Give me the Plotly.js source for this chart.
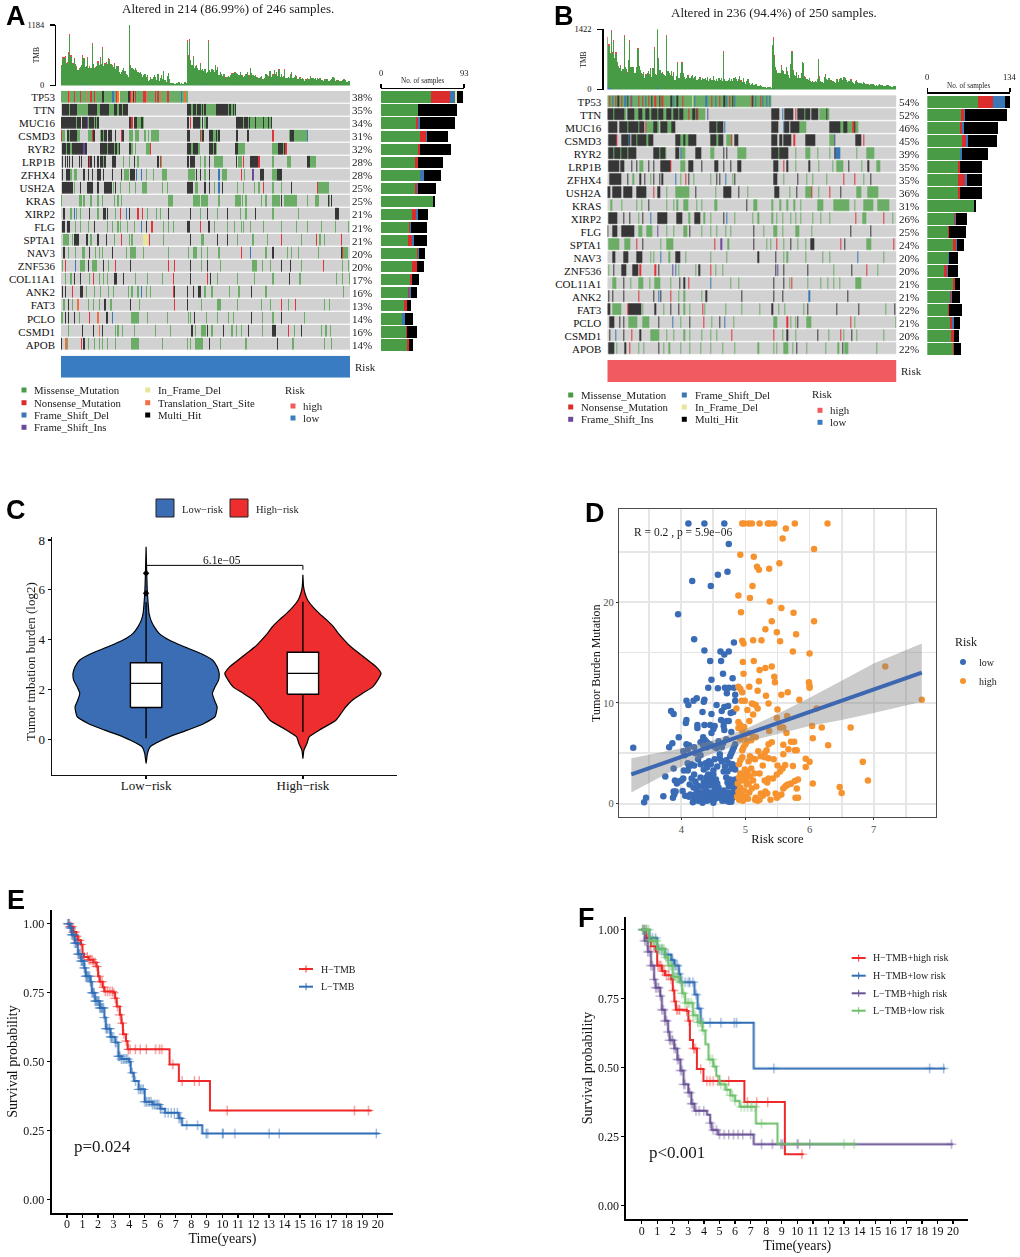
<!DOCTYPE html>
<html><head><meta charset="utf-8">
<script src="https://cdn.plot.ly/plotly-3.0.1.min.js"></script>
<style>html,body{margin:0;padding:0;background:#fff}#chart{width:1020px;height:1257px;filter:blur(.35px)}</style>
</head><body><div id="chart"></div>
<script>
const genes=["TP53","TTN","MUC16","CSMD3","RYR2","LRP1B","ZFHX4","USH2A","KRAS","XIRP2","FLG","SPTA1","NAV3","ZNF536","COL11A1","ANK2","FAT3","PCLO","CSMD1","APOB"];
const pctA=[38,35,34,31,32,28,28,25,25,21,21,21,20,20,17,16,13,14,16,14];
const pctB=[54,52,46,45,39,35,35,36,31,26,25,24,20,20,21,21,22,21,20,22];
const tmbA=[380,520,530,540,420,440,620,970,560,430,450,520,430,360,300,330,360,400,560,520,340,380,530,340,360,340,790,430,340,340,380,450,410,540,420,710,380,420,460,400,540,480,420,380,360,420,320,370,390,260,220,260,300,350,290,220,210,170,
1184,380,340,320,310,350,280,260,250,270,220,170,190,220,150,200,90,110,170,130,170,200,160,110,220,90,140,180,120,290,110,70,170,250,130,50,40,40,30,30,40,50,70,30,40,30,30,70,40,
860,560,870,470,400,560,340,380,390,340,300,420,310,300,290,320,240,260,850,300,260,330,300,260,400,310,350,210,260,220,190,220,230,150,170,190,160,210,220,250,270,240,240,210,210,270,200,190,170,180,220,260,200,170,350,240,200,180,210,170,150,140,170,190,130,110,150,220,200,160,290,280,160,190,300,220,270,180,310,170,220,170,180,300,150,140,170,150,200,270,150,160,210,170,130,120,150,130,140,120,90,100,150,120,130,160,150,140,130,140,110,130,120,150,110,100,90,110,120,130,90,80,100,120,170,140,90,110,80,110,90,90,100,110,120,100,70,80,90,110,90];
const tmbB=[1050,990,800,1340,860,1130,740,840,660,520,480,560,430,480,1230,540,480,400,700,1130,520,540,510,380,400,500,950,560,450,380,340,420,280,340,400,440,360,480,300,500,950,360,340,1406,720,460,400,380,360,340,300,1234,430,380,320,440,320,380,220,320,620,280,260,400,620,380,300,240,280,340,300,280,310,340,260,290,310,220,240,300,280,220,270,250,280,220,290,210,250,280,220,310,230,200,240,200,260,230,270,210,880,240,200,190,230,260,210,240,190,270,300,240,200,250,310,200,180,260,170,130,210,250,150,110,130,150,110,110,120,90,90,80,100,90,70,50,50,40,60,70,50,40,
1050,1156,760,520,440,400,380,400,520,470,430,360,540,420,340,260,600,880,430,340,320,420,280,320,270,380,650,620,300,280,250,230,260,190,170,180,170,190,170,240,715,280,200,170,160,300,350,240,210,280,230,190,190,210,170,150,240,180,230,260,280,220,290,270,220,170,190,200,230,180,150,140,190,200,180,150,160,150,120,170,150,130,140,100,110,120,130,120,110,90,100,90,110,120,100,100,80,80,90,100,110,90,80,70,70,90,80];
const capSampleA=[0,1,2,3,4,5,6,7,8,9,11,13,15,18,19,22,24,26,29,31,33,35,37,39,41,43,45,47,58,59,64,72,85,107,108,109,110,112,115,118,125,133,140,145,148,154,160,167,172,176,180,185,190,195,200,203,208,212,218,224,230,235,240];
const capValueA=[20,30,25,40,20,20,30,45,35,20,25,20,20,30,25,30,20,40,20,20,25,45,20,20,30,20,20,20,20,25,20,20,30,40,35,45,20,25,20,20,35,20,20,25,20,20,30,15,20,20,25,20,20,30,20,25,20,30,25,20,15,20,15];
const capSampleB=[0,1,2,3,4,5,7,9,11,14,17,19,22,26,30,33,37,40,43,44,47,51,54,57,60,64,70,80,100,115,143,144,146,150,155,159,160,165,170,171,177,183,188,193,200,210,215,225,235];
const capValueB=[60,40,30,50,30,40,35,25,25,55,25,45,25,35,25,25,25,45,50,30,25,45,25,25,30,30,25,20,30,20,60,50,30,30,25,30,40,25,30,25,25,40,25,25,25,20,30,20,15];
const baseSampleA=[20,70,90,120,150,180];
const baseValueA=[20,15,15,20,15,15];
const baseSampleB=[0,1,2,3,10,25,43,50,70,143,150,190];
const baseValueB=[120,40,30,20,25,20,60,20,20,25,20,15];
const oncoA=[
"m0-107 n6 t7 n11 n16 t21 n25 n28 h35 h36 d43 d44 n47 t48 f49 h57 h58 n59 t60 h61 n63 n70 n71 t72 n80 n82 t84 n90 n91 d102 t105",
"h1-6 m7 h8-13 m14-22 h23-30 m31-32 h33-40 m41-44 h45-47 m48 h49-51 m52 h53-56 h107-110 m111 h112-114 m115 h116-118 m119 h120 m121 h122 m123-131 h132-141 m142 h143-144 m145 h146 m147 h148",
"h0-9 h10-12 m13 h14-16 h18-21 i22 m23 h24-27 m28 h29 m30 h31 h58-59 n60 h62-64 m65-67 h68-69 m70 h107-108 n110 h112-117 m118 h120 m122 h123-124 h149-154 m155 h156-158 m159 h160 m161-164 h165 m166-171 h172 m173-175 h176 m177-178 h179",
"n0 m1-2 h5-6 m7 h8-13 m14-15 m23-25 n26 h27-28 m33 h34-35 m36 h37-38 h40-42 h46 n51 h52-53 m58-60 m63-65 m71 m74 m77-82 h107-109 n118 m119 h120-121 h126-128 m129-131 h132 m133 h134 h149-150 h158-159 n180 m194 h195-197 m198-208 d209",
"h1-3 m4 h5-7 m8 h9-12 h13-15 h16-18 i19 h20-21 h33-38 m39 h40-44 m45 h46-47 m48 h49 h58-59 m60 m63 m72-75 n76 h107-110 m111 h112-116 m117 h126-128 m129 h130-131 m132 h148-150 m151-156 m180-184 h185-188 m189 h190 n191",
"h1 h3 h5 h7 h9 h15 h17 h23 n24 h25 h28 h31 h33-35 m36 h37 h43-46 m53 m58 h62 m65 h82 n84 m85 h107-108 h110-113 m118 m122 h126 m130-137 h149 m151-153 n155 h161-163 h164-166 h167 n168 m180 m192-195 h209-211 m212-216",
"h1 h4-7 m8 m11-13 h19 h23 h26 h31-33 h36 h43 h51 m54-57 h59-62 d64 d68 m72 m78 m86-89 m108-112 m113 h115 h118 m122 h126 d134 m137-140 n153 m156 i163 h169-172 m180-183 h184-187",
"h1-9 m11 h16 h22-25 h26 h31 h37-39 h40-42 m44 h46 m50 m58 m63 m69-72 m86 m90 h107-111 m114-116 h122 h126 m130 d134 h137 m150 m155 m164 m168 n172 m180 m187 h196 n218 m219-227",
"m0 m15-17 m19 m25 m31 m35 m45 m48 m51 m91-94 m112-117 m119-124 m134 m148-152 m154 m157 m170 m174 m180-185 h187 m190-200 m209 m216-219 h227 m228 h230",
"h2 m8 d11 m13 m16 h24 m31 h36-37 h39 m46 n50 d55 h58 n65 n69 m73 m81 m84 h91 h110 m118 h124 m133 h141 m152 m157 h165 m180 m202 h233-236",
"h1-2 h5-7 m12 m16 m23 h28 m39 m43 m48 m50 m56 m62 d68 h72 n77 m87 m91 m95 h107-109 n118 h125-126 m130 m141 m147 m153 m155 m161 m172 m187 m200 m209 m221 m233 m244",
"m2-6 m9 h11-14 h21-22 m25 h31 h38 m45 n51 m58 m60 f70-73 n75 m87 h110 m119-121 h133 h141 m150 m163 m175 n187 m204 n217 m220 m224 n238",
"h2 m6 m12 m18-19 h24 m29 m32 m35 h43 m55 m59-63 m70 m91 m108 m112-115 m119 m124 m134 n153 d161 m174 h180 m192 m196 m202 m219 h238 n239 m240-243",
"m1 n3 d12 m16-19 h23 m26-30 h36 m40 n46 h59 n91 n96 h110 m119 h124 m135 m163-166 m171 m178 h187 h195 m204 n223 m239 m244",
"m3 m8 h11 h16 m24 n27 m32 m36 m39 h45-47 h53 m63 m73 m86 n95 h110 n124 h127 m133 m150 m164 m180 h194 m203 m234 m239 m245",
"h1 h3 n9 h16-18 m21 m28 m33 m40 m44 m57 m60 m65 d68 m72 m76 n95 h96 h107 h112 h117-118 m122 m128 m143 m151 h162 m174 m240",
"m2 h6 m9 t14 m23 m27 m32 h37 m42 h59 m66 n96 h107 m119 m133-135 m150 m170 m178 n187 m193 n199 m224 m228",
"m0-1 h3 h6 h11 m15 n24 t31 h38 h39 d43 m60-65 m73 m90 m108 m110 h113 m123 m133 m142 m146 h162 m171 m180 h187 m207",
"m6 h18 h27 t32 h35 m46 m48 m52 m62 m80 m93 h111 m114 m119-122 h124 m128 h138 m145 m149 m153 h159 m171 h180-182 n193 m198 h204 m221 m225 m229",
"h0 t3-4 m5 n17 h19 m23 m28 m32 m35 m39 m46 m60-65 m86 m107 m110 m114-120 h126 m135 m157 h184 m197 m224 m230"];
const oncoB=[
"m0-141 n2 d4 n7 h9 n12 d15 h17 n20 d21 n27 n30 d33 n35 h38 n41 h45 n47 h54 h55 d57 h60 n65 f73 d75 d85 n90 d93 n97 h100 h101 d103 n105 h108 d110 n124 h125 d128 n132 d134 d137 d140",
"h0-4 m5 h6-14 m15 h17-22 m23-26 h27-29 m30-32 h33-35 m36-37 h38-42 m43 h44-47 m48-50 h51-54 m55-56 h57-60 m61 h62-65 m66-69 n70 m71-72 h73-75 m76 h77 n78 m79-84 i86 h142-148 d151 h153-160 n162 h164-169 m170 h171-174 h176-181 m183-191 h189",
"h1-8 h10-16 m17 h18-26 m27 h28-31 n33 m34-39 h40-42 m43-44 h46-51 m52-54 h55-58 h88-93 m94 h95-99 d101 h142-147 d152 h153-156 h158-165 m166-171 h192-200 m201-203 h204-206 m207-211 n212 h213 m214-216",
"h1-7 n8 h12-19 d18 h21-24 m25 h26-33 m34 h35-39 h59-62 m63-65 h66 m67-69 h70-76 h89-93 m94-95 h96-99 m103-106 n107 h110-112 h142-146 h149-150 h152-158 n161 h171-179 m192-195 i196 h214-218 n221",
"h1-4 m5 h6-10 m11 h12-16 m17 h18-24 h40-44 m45 h46-49 m50 h59-61 d63 m64-66 h76-80 m89-91 h100 h103 m112-119 h142-147 m148 h149-155 m162 m171-174 m181 m192 h196 d197-200 m215 m224-230",
"h1-9 h11-14 h21 h25 m28-30 h35 h40 h46-53 n54 m63-66 h70-73 h81 h92-95 h100 h106 h112-115 h143-147 n152 h155 m162 h174 m182 m194 m198-203 h208 m219 h225 m232-235",
"h2-11 h17 m22 h28 h32 m37 h40 h45 h47 d59 m63 n67 h70 m74 m89 h94 h97 d102 m108 h110 h143-146 m152 h164 m172 m177 m189 n204 n213 m221 h227",
"h0-2 h4-11 h14-21 h25-33 n40 h43-45 m51 m59-63 m64-70 h76 m93 h100-106 h113 m121 h144-148 m157 h163 m171-175 n176 m182 n192 h201 m215-218 m225-233",
"m3 m12 m25 m29 h35 m51 m57 m60 m66-69 m77 m81 m92-94 h120 m126-129 m142 m149 m155 m161 m167 m181-186 m195-208 m213 m221-229 m233-243",
"h1-8 h14 h19 m27 h30 d37 h43-51 h60-64 m70-71 h75-79 m83-84 m89 h100 d103 m110 m125 m130 m142 m146 m151 m158 m162 m167 m177 m184 m192 n214 m220-223 n238 m246",
"h0 h4-8 h12-22 m27-29 m34-38 i43 m51 m57 m66-68 h71 m81 m89 m94 m102 m106 h126 m135 m143-146 m151 m162-165 m176 h210 h227",
"m1-9 m15-19 n25 h30 m46 m51-56 n92 i98 m104 h126 m137 m141 n146 m152 h158 m164 m171 h175-178 n201 h205 m224-227 n247",
"h4-6 h14-17 h25-29 m37 m40 d46 m53 h59-62 m67 m89 m103 h130 h145 m152 m155 m171 m186 m192 d216 m238",
"m1 h5 h12-15 h22-26 n28 n41 h44 i56 d59 m61 m76 h79 n89 m93 m99 h145 i147 h152 h173 m195 h211 n224 m233",
"m4-7 h14 m20 m27-30 m36 m41-45 m54 h62 h66 n70 d89 m106 m113 h143 h152 m157 n159 m173 m184 m190 m195 m200 m214-218",
"h1 h4 h14 n27 h40 d44 h46 n54 m61 m66 m81 h85 h116 h143 h151 d174 h207",
"h0-2 m4-11 n17 h18-28 m30 h41 m48 h54 h61 m66 m71 n82 m84 m102 m116 m131 h142 m148 m153 m169 h173 h198 h217 m240 h248",
"h2-5 h10 h14 m18-25 m30-35 h44 d56 m63 h71 n83 m90 h97 d101 m109 m143-146 n155 m158 m162 h164 m172-175 n210 m213 m249",
"h2 d7 h14 n21 h28 m37-44 m51 m57 m66 m71 m81 m89 m94 n107 n143 m151 h155 m162 h181 m191 n201 m204 h211 m215 m238",
"h1-5 m8 h15 n19 m27 m31 h44 m48 m53 m63 m71 m80 m89 m99 m110 m130 m143 m146 m152-155 m160 h163 m172 m188 m199 h203 m205-207 m232"];
const barMissA=[55.8,42,39.4,43.9,40.9,38.3,43.2,38.3,58.8,35,30.9,29.8,39.8,34.6,32,29.8,25.3,23.8,27.5,29];
const barNonsA=[21.6,0,2.2,6.7,2.6,3.7,.7,1.9,0,4,1.9,5.2,1.9,5.2,3,1.9,3.7,0,1.9,1.9];
const barDelA=[6,0,2.2,1,0,0,4,.7,0,1.9,1,1.9,1,1,0,1.5,0,3,0,0];
const barInFrameA=[2,0,0,0,0,0,0,0,0,0,0,0,0,0,0,0,0,0,0,0];
const barMultiA=[6,43.5,38.7,23.8,35.3,27.9,19.7,20.8,2.2,11.2,18.2,14.5,6.3,7.1,7.1,7,4.5,8.5,10.8,4.5];
const barMissB=[82,54.6,53,55.7,53,49.7,50.3,49.7,75.7,43.2,33,41,33,27,42,36.8,33.5,36.2,38.4,41];
const barNonsB=[24.9,4.9,3.2,7,0,3.2,11.4,3.2,0,1.6,1.6,5.4,0,4.3,2.2,2.2,1.6,3.2,4.3,1.6];
const barDelB=[18.9,1.6,3.8,3.2,3.2,0,2.7,0,0,1.6,0,1.6,2.2,2.2,0,1.6,0,3.2,0,0];
const barMultiB=[8.1,68.6,55,47,41.6,35,23.8,36.2,2.7,17.8,27.6,11.9,14,16.8,9.2,13,21.6,10.8,8.6,11.9];
const violinLowY=[-.98,-.58,-.31,.09,.36,.63,.9,1.1,1.3,1.5,1.84,2.1,2.37,2.64,2.91,3.18,3.44,3.71,3.98,4.25,4.52,4.79,5.05,5.46,5.86,6.66,7.73];
const violinLowW=[0,.0085,.026,.147,.264,.37,.44,.449,.453,.44,.423,.44,.462,.466,.453,.423,.349,.243,.147,.083,.051,.03,.019,.013,.0085,.004,0];
const violinHighY=[-.78,-.44,-.17,.09,.36,.76,1.03,1.3,1.57,1.84,2.1,2.37,2.64,2.91,3.18,3.44,3.71,3.98,4.25,4.52,4.79,5.05,5.32,5.59,5.86,6.13,6.6];
const violinHighW=[0,.0064,.026,.04,.104,.21,.243,.274,.317,.381,.445,.477,.498,.466,.413,.36,.306,.264,.226,.194,.151,.104,.062,.03,.013,.004,0];
const boxLow={q1:1.27,med:2.24,q3:3.07,lo:.03,hi:5.5};
const boxHigh={q1:1.8,med:2.64,q3:3.49,lo:.29,hi:5.52};
const outliersLow=[5.86,6.66];
const scatterLow=[[4.11,27.8],[4.36,27.8],[4.67,27.8],[4.74,25.75],[4.72,23],[4.57,22.7],[4.17,22.1],[4.46,21.6],[3.95,18.8],[4.2,16.3],[4.36,15.2],[4.61,15.1],[4.67,14.8],[4.74,15.1],[4.82,16],[4.45,14.15],[4.62,14.15],[4.65,12.9],[4.8,12.45],[4.47,12.3],[4.42,11.5],[4.57,11.45],[4.68,11.5],[4.74,11.5],[4.82,11.5],[4.71,10.95],[4.84,10.8],[4.84,10.2],[4.08,10.2],[4.24,10.45],[4.19,10.2],[4.36,10.3],[4.35,10.1],[4.11,9.8],[4.55,9.8],[4.67,9.6],[4.73,9.7],[3.84,9.2],[3.88,8.9],[4.33,9.1],[4.47,8.9],[4.63,9.2],[4.77,9],[4.81,9.1],[4.08,8.3],[4.07,8],[4.62,8.3],[4.71,8.2],[4.66,8.1],[4.74,8.2],[4.25,7.8],[4.25,7.5],[4.36,7.8],[4.45,7.8],[4.52,7.7],[4.5,7.4],[4.66,7.7],[4.67,7.3],[4.47,7],[4.78,7.1],[3.96,6.6],[4.34,6.6],[4.37,6.3],[4.33,6.2],[4.4,6.1],[4.58,6.2],[4.45,5.9],[4.08,5.9],[3.86,6],[3.81,5.6],[3.25,5.55],
[3.42,.15],[3.45,.6],[3.72,.75],[3.88,1.2],[3.89,.9],[3.87,.6],[3.91,1.2],[4.02,1.25],[3.75,2.7],[3.88,3.5],[3.9,2.3],[3.93,2],[4,2.3],[3.96,2.2],[4.03,2.5],[4.04,3.3],[4.1,3.3],[4.06,.8],[4.12,.7],[4.14,.9],[4.18,.15],[4.2,.5],[4.22,.9],[4.24,1.3],[4.26,.3],[4.28,.7],[4.3,1.1],[4.33,.1],[4.34,.5],[4.36,.9],[4.38,1.4],[4.4,.3],[4.42,.7],[4.44,1.1],[4.46,.4],[4.48,.8],[4.5,.1],[4.51,1.2],[4.53,.5],[4.55,.9],[4.57,1.4],[4.6,.6],[4.62,1],[4.64,.3],[4.66,1.3],[4.68,.7],[4.7,.3],[4.72,1.1],[4.74,.2],[4.75,.6],[4.77,1],[4.78,.2],[4.8,.6],[4.81,1.2],[4.83,.9],[4.84,1.5],
[4.13,1.9],[4.16,2.5],[4.19,1.6],[4.2,2.9],[4.22,2.2],[4.25,1.8],[4.3,2.6],[4.32,1.7],[4.35,2.1],[4.37,1.7],[4.39,2.6],[4.4,1.9],[4.42,2.9],[4.43,2.3],[4.45,1.8],[4.47,2.6],[4.49,2.2],[4.5,2.9],[4.52,1.7],[4.54,2.4],[4.56,2],[4.58,1.6],[4.7,2.6],[4.72,2.1],[4.74,1.7],[4.76,2.4],[4.78,1.8],[4.8,2.1],[4.82,1.7],[4.84,2.4],[4.85,1.9],
[4.1,4],[4.12,3.7],[4.16,3.9],[4.2,3.8],[4.26,4.4],[4.3,3.9],[4.35,3.4],[4.38,4],[4.4,3.6],[4.43,4.2],[4.46,3.9],[4.5,3.3],[4.52,4.4],[4.56,3.7],[4.6,4.5],[4.63,4.2],[4.66,3.2],[4.68,3.7],[4.7,4.3],[4.72,3.2],[4.74,4],[4.78,3.5],[4.8,3.9],[4.82,3.5],[4.84,3.4],[4.76,4.7],[4.78,5],[4.8,5.3],[4.82,5.6],[4.84,5.9],[4.6,4.9],[4.63,5.6],[4.65,6],[4.55,5.5],[4.5,5.7],[4.4,5.6],[4.34,5.8],[4.3,6.1],[4.2,5.6],[4.12,5.8],[4.1,5.4],[4.03,5.2],[4.05,4.8],[4.22,5],[4.3,4.8],[4.7,6.4]];
const scatterHigh=[[4.95,27.8],[4.98,27.8],[5.05,27.8],[5.1,27.8],[5.22,27.8],[5.35,27.8],[5.38,27.8],[5.45,27.8],[5.77,27.8],[6.28,27.8],[5.63,27.3],[5.58,26.3],[6.07,25.25],[4.92,24.7],[5.13,24.5],[5.53,23.85],[5.18,23.5],[5.21,23.2],[5.37,23.3],[5.11,21.6],[4.89,20.65],[5.07,20.4],[5.38,20.05],[5.56,19.4],[4.93,19],[5.75,18.95],[5.41,18.1],[6.07,18.1],[5.31,17.3],[5.49,17],[5.79,16.8],[4.95,16.15],[4.97,15.9],[5.12,16.2],[5.25,16.2],[5.54,16.1],[5.74,15.1],[6,14.9],[4.96,14.05],[5.13,14.15],[5.41,13.6],[5.31,13.45],[5.22,13.25],[7.18,13.6],[4.97,12.9],[5.45,12.6],[5.21,12.15],[5.46,12.05],[5.99,12.05],[4.89,11.6],[4.92,11.4],[5.06,11.6],[6,11.7],[6,11.5],[4.95,11.05],[5.19,11.2],[5.66,11.05],[5.56,10.8],[5.32,10.7],[7.75,10.3],[5.84,10.3],[4.94,10.2],[4.99,10.2],[5.1,9.95],[5.12,9.9],[5.36,9.95],[5.16,9.8],[5.19,9.45],[4.86,9.45],[5.03,9.3],[5.5,9.35],[6.11,9.45],[5.12,8.85],[5.65,8.7],[5.49,8.5],[5.06,8.2],[4.89,8.1],[6.04,7.7],[6.19,7.55],[6.64,7.55],[5.54,7.55],[5.59,7.55],[5.37,7.2],[5.64,7],[6.05,6.5],[6.29,5.8],[5.71,6.15],[5.76,6.15],[5.41,6.1],[5.36,5.9],[5.59,5.85],[5.67,5.4],[5.77,5.3],[5.8,5.3],[5.59,4.9],[5.94,4.45],[6,4.15],[6.83,4.15],[5.94,3.65],[5.74,3.75],[5.62,3.85],[6.91,2.3],[6.05,2],[5.82,2.4],[5.77,2.25],[5.71,2],[5.64,1.8],[6.47,1.65],[6.5,1.05],[5.8,1.5],[5.78,.6],[5.82,.6],
[4.87,.7],[4.89,1.2],[4.9,.4],[4.92,1.6],[4.94,.9],[4.96,.3],[4.98,1.3],[5,.7],[5.02,1.9],[5.04,.5],[5.06,1.1],[4.88,2],[4.9,2.6],[4.92,3],[4.95,2.3],[4.97,2.8],[4.99,3.4],[5.01,2.5],[5.03,3.1],[5.05,2],[5.07,2.7],[5.09,3.5],[5.1,1.5],[5.12,2.3],[5.14,3],[5.17,1.7],[5.15,.4],[5.16,.6],[5.19,.3],[5.22,.4],[5.24,1],[5.27,.8],[5.31,1.2],[5.34,1],[5.39,.4],[5.47,1],[5.49,.6],[5.52,.8],[5.56,.9],[5.59,1.5],[5.62,1.7],[5.66,1.9],[5.7,1.95],[5.3,2.3],[5.36,2.5],[5.34,2.1],[5.43,2.5],[5.49,2.9],[5.54,3.2],[5.58,3.5],[5.22,3],[5.27,3.8],[4.9,3.9],[4.92,4.3],[4.95,4.6],[5.05,4.2],[5.07,4.7],[5.1,4.5],[5.15,4.4],[5.2,5.2],[5.24,4.7],[5.3,4.6],[5.36,4.5],[5.44,4.4],[5.5,3.8],[4.95,5.3],[4.97,5.6],[5,5.9],[4.92,6.4],[4.98,6.6],[5.03,6.2],[5.09,6.3],[5.12,6.6],[5.16,6.6],[4.89,7.5],[4.92,7.8],[4.95,7.2],[4.98,7.6],[5.05,7],[5.33,5.3],[5.3,5]];
const fitX=[3.22,7.75];
const fitY=[2.9,13];
const bandX=[3.22,3.6,4,4.5,5,5.5,6,6.5,7,7.75];
const bandLo=[1.1,2.4,3.7,5,6.1,6.9,7.7,8.3,9,10.1];
const bandHi=[4.5,5,5.5,6.3,7.4,8.9,10.5,12.2,13.9,15.9];
const hTime=[0,.2,.4,.6,.7,.9,1,1.1,1.4,1.7,1.9,2,2.1,2.3,2.4,3,3.1,3.2,3.4,3.5,3.6,3.8,3.9,6.6,7.2,9.2,19.6];
const hSurv=[1,.99,.97,.955,.94,.925,.89,.88,.87,.86,.845,.81,.79,.77,.755,.75,.73,.7,.67,.64,.6,.575,.545,.49,.43,.323,.323];
const hCens=[.1,.2,.3,.4,.5,.6,.7,.8,.9,1,1.1,1.3,1.4,1.5,1.6,1.7,1.8,1.9,2.05,2.15,2.25,2.35,2.45,2.6,2.75,2.9,3,3.1,3.25,3.4,3.55,3.65,3.8,3.95,4.05,4.4,4.7,5.1,5.7,5.95,6.1,6.8,7.4,8.2,8.5,10.3,18.5,19.4];
const lTime=[0,.2,.3,.5,.7,.9,1.1,1.2,1.5,1.6,1.8,2.1,2.4,2.5,2.8,3.1,3.3,3.5,4,4.1,4.3,4.6,5,5.5,6,6.3,7.2,7.4,8.7,20.1];
const lSurv=[1,.985,.96,.93,.89,.865,.84,.81,.79,.75,.72,.695,.66,.62,.59,.57,.52,.51,.5,.46,.43,.4,.355,.345,.33,.315,.295,.27,.24,.24];
const lCens=[.05,.1,.15,.2,.25,.3,.35,.4,.45,.5,.55,.6,.65,.7,.75,.8,.85,.9,.95,1,1.05,1.1,1.15,1.2,1.25,1.3,1.35,1.4,1.45,1.5,1.55,1.6,1.65,1.7,1.75,1.8,1.85,1.9,1.95,2,2.05,2.1,2.15,2.2,2.25,2.3,2.35,2.4,2.5,2.55,2.6,2.7,2.75,2.8,2.85,2.9,3,3.1,3.2,3.3,3.35,3.4,3.5,3.6,3.7,3.8,3.9,4,4.2,4.4,4.6,4.7,4.8,4.9,5,5.1,5.2,5.3,5.4,5.5,5.6,5.7,5.8,5.9,6,6.1,6.3,6.5,6.7,6.9,7.1,7.2,7.3,7.7,8.4,8.95,9.05,10,10.05,10.8,13,13.65,19.9];
const f1Time=[0,.3,.6,.9,1,1.3,1.5,1.9,2,2.1,2.2,2.9,3,3.1,3.3,3.55,3.97,6.6,9.2,10.4];
const f1Surv=[1,.97,.94,.92,.87,.85,.835,.82,.78,.74,.71,.705,.67,.6,.57,.495,.452,.3756,.187,.187];
const f1Cens=[.2,.4,.6,.8,1.05,1.15,1.25,1.35,1.45,1.6,1.75,1.9,2.05,2.15,2.25,2.35,2.45,2.9,3.05,3.35,3.45,3.8,4.2,4.4,4.6,4.9,5.6,6.8,7.4,8.1,10.3];
const f2Time=[0,.5,1,1.5,1.9,2.1,2.4,2.5,3.4,3.6,3.8,7.2,19.5];
const f2Surv=[1,.97,.93,.91,.89,.87,.84,.81,.765,.715,.663,.4976,.4976];
const f2Cens=[.1,.3,.5,.7,.9,1.1,1.3,1.5,1.7,1.9,2,2.1,2.2,2.3,2.4,2.6,2.8,3,3.1,3.3,3.5,3.7,3.95,4.4,5.1,5.95,6.1,8.5,18.5,19.4];
const f3Time=[0,.2,.4,.6,.8,.9,1.2,1.3,1.5,1.7,1.8,2.1,2.3,2.5,2.7,3,3.2,3.4,4.2,4.4,4.5,4.9,7.2,20];
const f3Surv=[1,.96,.92,.87,.82,.79,.76,.71,.67,.63,.6,.57,.53,.49,.44,.41,.37,.344,.33,.3,.275,.2585,.2234,.2234];
const f3Cens=[.1,.2,.3,.4,.5,.6,.7,.8,.9,1,1.1,1.2,1.3,1.4,1.5,1.6,1.7,1.8,1.9,2,2.1,2.2,2.3,2.4,2.5,2.6,2.7,2.8,3,3.1,3.2,3.3,3.5,3.7,4,4.4,4.6,4.8,5,5.3,5.6,5.9,6.2,6.5,7,7.7,8.4,8.95,9.05,10,10.05,10.8,19.9];
const f4Time=[0,.5,1,1.5,1.7,2,2.4,2.6,2.8,3.3,3.6,3.9,4.1,4.3,4.6,4.8,5,5.4,5.7,6,6.3,7.34,8.73,13.7];
const f4Surv=[1,.96,.93,.9,.87,.83,.81,.77,.735,.69,.665,.635,.585,.53,.505,.47,.44,.42,.4,.38,.3587,.298,.224,.224];
const f4Cens=[.05,.15,.25,.35,.45,.55,.65,.75,.85,.95,1.05,1.15,1.25,1.35,1.45,1.55,1.65,1.75,1.85,1.95,2.05,2.15,2.25,2.35,2.5,2.6,2.7,2.8,2.95,3.05,3.2,3.3,3.45,3.6,3.7,3.8,3.95,4.4,4.55,4.7,5.1,5.3,5.5,5.7,5.85,6,6.4,6.6,6.8,7,7.1,7.3,7.7,13,13.65];

const W=1020,H=1257,SERIF='"Liberation Serif","Times New Roman",serif',SANS='"Liberation Sans",Arial,sans-serif';
const px=x=>x/W, py=y=>1-y/H;
const dom=(a,b)=>[a/W,b/W], domY=(top,bot)=>[1-bot/H,1-top/H];
const traces=[],annotations=[],shapes=[];
const layout={width:W,height:H,margin:{l:0,r:0,t:0,b:0},paper_bgcolor:'#fff',plot_bgcolor:'rgba(0,0,0,0)',showlegend:false,barmode:'stack',font:{family:SERIF,color:'#111'},annotations,shapes};
const off={visible:false,fixedrange:true};
function text(t,x,y,size,o={}){const left=!o.xanchor;annotations.push(Object.assign({text:t,x:px(left?x-1.5:x),y:py(y),xref:'paper',yref:'paper',xanchor:'left',yanchor:'middle',showarrow:false,font:{family:SERIF,size,color:'#1a1a1a'}},o));}
function letter(t,x,y){text('<b>'+t+'</b>',x,y,27,{font:{family:SANS,size:27,color:'#000'},xanchor:'left'});}
function square(cx,cy,s,col,line){shapes.push({type:'rect',xref:'paper',yref:'paper',x0:px(cx-s/2),x1:px(cx+s/2),y0:py(cy+s/2),y1:py(cy-s/2),fillcolor:col,line:line||{width:0}});}
function keyLine(x0,x1,y,col){shapes.push({type:'line',xref:'paper',yref:'paper',x0:px(x0),x1:px(x1),y0:py(y),y1:py(y),line:{color:col,width:2}});const m=(x0+x1)/2;shapes.push({type:'line',xref:'paper',yref:'paper',x0:px(m),x1:px(m),y0:py(y-3.5),y1:py(y+3.5),line:{color:col,width:1}});}

const heatColors=['#d1d1d1','#6bad67','#e0343a','#3a78b5','#6a4a9c','#e8e59a','#ef7045','#363636'];
const codes={m:1,n:2,d:3,i:4,f:5,t:6,h:7};
const scale=[];heatColors.forEach((c,i)=>{scale.push([i/8,c]);scale.push([(i+1)/8,c]);});
function decode(rows,n){return rows.map(s=>{const r=new Array(n).fill(0);s.split(' ').forEach(tok=>{const m=tok.match(/^([a-z])(\d+)(?:-(\d+))?$/);if(!m)return;const a=+m[2],b=m[3]?+m[3]:a;for(let i=a;i<=b&&i<n;i++)r[i]=codes[m[1]];});return r;});}
const idx=n=>Array.from({length:n},(_,i)=>i);
function sparse(sam,val,n){const r=new Array(n).fill(0);sam.forEach((s,i)=>r[s]=val[i]);return r;}

function oncoPanel(k,o){
 const xa=i=>'x'+(k+i===1?'':k+i),ya=i=>'y'+(k+i===1?'':k+i);
 const ln=i=>k+i===1?'':String(k+i);
 const n=o.n,N=idx(n);
 const trim=o.tmb.slice(0,n);
 const base=sparse(o.baseS,o.baseV,n),cap=sparse(o.capS,o.capV,n);
 [[base,'#3a78b5'],[trim,'#479b44'],[cap,'#ec4a4a']].forEach(([v,c])=>traces.push({type:'bar',x:N,y:v,xaxis:xa(0),yaxis:ya(0),width:1,marker:{color:c,line:{width:0}}}));
 layout['xaxis'+ln(0)]=Object.assign({},off,{domain:dom(o.x0,o.x1),range:[-.5,n-.5],anchor:ya(0)});
 layout['yaxis'+ln(0)]={domain:domY(o.tmbTop,o.tmbBot),range:[0,o.tmbMax],anchor:'free',position:px(o.axisX),tickmode:'array',tickvals:[0,o.tmbMax],ticktext:['0',String(o.tmbMax)],ticks:'outside',ticklen:5,tickwidth:1.2,tickcolor:'#000',showline:true,linecolor:'#000',linewidth:1.2,showgrid:false,zeroline:false,tickfont:{size:8.5,family:SERIF,color:'#111'},ticklabelstandoff:4,fixedrange:true};
 text('TMB',o.axisX-19,(o.tmbTop+o.tmbBot)/2,7.5,{textangle:-90,xanchor:'center'});
 text(o.title,o.titleX,o.titleY,13,{xanchor:'center'});
 traces.push({type:'heatmap',z:decode(o.onco,n),x:N,y:idx(20),xaxis:xa(1),yaxis:ya(1),zmin:-.5,zmax:7.5,colorscale:scale,showscale:false,ygap:1.2,zsmooth:false,hoverinfo:'skip'});
 layout['xaxis'+ln(1)]=Object.assign({},off,{domain:dom(o.x0,o.x1),range:[-.5,n-.5],anchor:ya(1)});
 layout['yaxis'+ln(1)]={domain:domY(o.rowTop,o.rowBot),range:[19.5,-.5],anchor:xa(1),tickmode:'array',tickvals:idx(20),ticktext:genes,ticks:'',showline:false,showgrid:false,zeroline:false,tickfont:{size:11,family:SERIF,color:'#111'},ticklabelstandoff:5,fixedrange:true};
 o.pct.forEach((p,i)=>annotations.push({text:p+'%',x:px(o.x1),y:i,xref:'paper',yref:ya(1),xanchor:'left',yanchor:'middle',showarrow:false,font:{family:SERIF,size:11,color:'#1a1a1a'}}));
 o.bars.forEach(([v,c])=>traces.push({type:'bar',orientation:'h',x:v,y:idx(20),xaxis:xa(2),yaxis:ya(2),width:.9,marker:{color:c,line:{width:0}}}));
 layout['xaxis'+ln(2)]={domain:dom(o.barX0,o.barX1),range:[0,o.barMax],side:'top',anchor:'free',position:py(o.barAxisY),tickmode:'array',tickvals:[0,o.barMax],showticklabels:false,ticks:'outside',ticklen:4,tickwidth:1.2,tickcolor:'#000',showline:true,linecolor:'#000',linewidth:1.2,showgrid:false,zeroline:false,fixedrange:true};
 layout['yaxis'+ln(2)]=Object.assign({},off,{domain:domY(o.rowTop,o.rowBot),range:[19.5,-.5],anchor:xa(2)});
 text('0',o.barX0,o.barAxisY-15,8.5,{xanchor:'center',font:{family:SERIF,size:8.5,color:'#111'}});
 text(String(o.barMax),o.barX1,o.barAxisY-15,8.5,{xanchor:'center',font:{family:SERIF,size:8.5,color:'#111'}});
 text('No. of samples',(o.barX0+o.barX1)/2,o.barAxisY-6.5,7.2,{xanchor:'center'});
 traces.push({type:'heatmap',z:[new Array(n).fill(1)],x:N,y:['Risk'],xaxis:xa(3),yaxis:ya(3),zmin:0,zmax:1,colorscale:[[0,o.riskColor],[1,o.riskColor]],showscale:false,zsmooth:false,hoverinfo:'skip'});
 layout['xaxis'+ln(3)]=Object.assign({},off,{domain:dom(o.x0,o.x1),range:[-.5,n-.5],anchor:ya(3)});
 layout['yaxis'+ln(3)]=Object.assign({},off,{domain:domY(o.riskTop,o.riskBot),anchor:xa(3)});
 text('Risk',o.x1+4,(o.riskTop+o.riskBot)/2,11);
 o.legend.forEach(([t,c,sx,tx,y])=>{square(sx,y,5,c);text(t,tx,y,10.8);});
 text('Risk',o.riskLegX,o.riskLegY,10.8);
 square(o.riskLegX+9,o.riskLegY+16,5,'#f15b60');text('high',o.riskLegX+18,o.riskLegY+16,10.8);
 square(o.riskLegX+9,o.riskLegY+28,5,'#3a7cc2');text('low',o.riskLegX+18,o.riskLegY+28,10.8);
}
const MISS='#499b46',NON='#dc2d2d',DEL='#3a78b5',INS='#6a4a9c',IFD='#e9e49c',TSS='#ef7045',MH='#000';
oncoPanel(1,{n:246,x0:61,x1:350,tmb:tmbA,tmbMax:1184,tmbTop:25,tmbBot:85.5,axisX:55,capS:capSampleA,capV:capValueA,baseS:baseSampleA,baseV:baseValueA,onco:oncoA,pct:pctA,
 title:'Altered in 214 (86.99%) of 246 samples.',titleX:227.5,titleY:8.5,rowTop:90.8,rowBot:351.2,barX0:381,barX1:464,barMax:93,barAxisY:87.8,
 bars:[[barMissA,MISS],[barNonsA,NON],[barDelA,DEL],[barInFrameA,IFD],[barMultiA,MH]],riskTop:355.7,riskBot:377.7,riskColor:'#3a7cc2',riskLegX:284,riskLegY:390,
 legend:[['Missense_Mutation',MISS,24,33,390],['Nonsense_Mutation',NON,24,33,402.7],['Frame_Shift_Del',DEL,24,33,415],['Frame_Shift_Ins',INS,24,33,427.3],['In_Frame_Del',IFD,147.7,157,390],['Translation_Start_Site',TSS,147.7,157,402.7],['Multi_Hit',MH,147.7,157,415]]});
oncoPanel(5,{n:250,x0:607.3,x1:896.7,tmb:tmbB,tmbMax:1422,tmbTop:29.3,tmbBot:89.5,axisX:602.3,capS:capSampleB,capV:capValueB,baseS:baseSampleB,baseV:baseValueB,onco:oncoB,pct:pctB,
 title:'Altered in 236 (94.4%) of 250 samples.',titleX:774,titleY:13,rowTop:95.2,rowBot:355.5,barX0:927.3,barX1:1010,barMax:134,barAxisY:92.3,
 bars:[[barMissB,MISS],[barNonsB,NON],[barDelB,DEL],[barMultiB,MH]],riskTop:360,riskBot:382.3,riskColor:'#f15b60',riskLegX:811,riskLegY:394.3,
 legend:[['Missense_Mutation',MISS,570.7,580,395],['Nonsense_Mutation',NON,570.7,580,407],['Frame_Shift_Ins',INS,570.7,580,419.3],['Frame_Shift_Del',DEL,684.3,694,395],['In_Frame_Del',IFD,684.3,694,407],['Multi_Hit',MH,684.3,694,419.3]]});
letter('A',4,16);letter('B',552,16);letter('C',4,510);letter('D',583,513);letter('E',5,900);letter('F',576,918);

function violin(center,ys,ws,col,box){
 traces.push({type:'scatter',mode:'lines',x:ys.map((_,i)=>center-ws[i]).concat(ys.map((_,i)=>center+ws[i]).reverse()),y:ys.concat(ys.slice().reverse()),fill:'toself',fillcolor:col,line:{color:'#000',width:1.2,shape:'spline',smoothing:.6},xaxis:'x9',yaxis:'y9',hoverinfo:'skip'});
 const l=center-.1,r=center+.1,bl={color:'#000',width:1.4};
 traces.push({type:'scatter',mode:'lines',x:[center,center],y:[box.lo,box.hi],line:bl,xaxis:'x9',yaxis:'y9'});
 traces.push({type:'scatter',mode:'lines',x:[l,r,r,l,l],y:[box.q1,box.q1,box.q3,box.q3,box.q1],fill:'toself',fillcolor:'#fff',line:bl,xaxis:'x9',yaxis:'y9'});
 traces.push({type:'scatter',mode:'lines',x:[l,r],y:[box.med,box.med],line:bl,xaxis:'x9',yaxis:'y9'});
}
violin(1,violinLowY,violinLowW,'#3a6db4',boxLow);
violin(2,violinHighY,violinHighW,'#ee2e2e',boxHigh);
traces.push({type:'scatter',mode:'markers',x:outliersLow.map(()=>1),y:outliersLow,marker:{color:'#000',size:5,symbol:'diamond'},xaxis:'x9',yaxis:'y9'});
traces.push({type:'scatter',mode:'lines',x:[1,1,2,2],y:[6.8,6.98,6.98,6.8],line:{color:'#000',width:1},xaxis:'x9',yaxis:'y9'});
annotations.push({text:'6.1e−05',x:1.485,y:7.2,xref:'x9',yref:'y9',xanchor:'center',yanchor:'middle',showarrow:false,font:{family:SERIF,size:11.5,color:'#111'}});
layout.xaxis9={domain:dom(52,397),range:[.4,2.6],anchor:'y9',tickmode:'array',tickvals:[1,2],ticktext:['Low−risk','High−risk'],ticks:'outside',ticklen:3,tickcolor:'#111',tickwidth:1.2,showline:true,linecolor:'#111',linewidth:1.5,showgrid:false,zeroline:false,tickfont:{size:13,family:SERIF,color:'#111'},ticklabelstandoff:-5,fixedrange:true};
layout.yaxis9={domain:domY(537,774.7),range:[-1.43,8.12],anchor:'x9',tickmode:'array',tickvals:[0,2,4,6,8],ticks:'outside',ticklen:3,tickcolor:'#111',tickwidth:1.2,showline:true,linecolor:'#111',linewidth:1.5,showgrid:false,zeroline:false,tickfont:{size:13,family:SERIF,color:'#111'},fixedrange:true};
text('Tumor tmbation burden (log2)',30,662,13,{textangle:-90,xanchor:'center'});
const bk={color:'#222',width:1};
square(165,508,18,'#3a6db4',bk);text('Low−risk',181,509,10.5);
square(239,508,18,'#ee2e2e',bk);text('High−risk',255,509,10.5);

const pick=(a,i)=>a.map(p=>p[i]);
traces.push({type:'scatter',mode:'markers',x:pick(scatterLow,0),y:pick(scatterLow,1),marker:{color:'#3a6bb5',size:6.5},xaxis:'x10',yaxis:'y10'});
traces.push({type:'scatter',mode:'markers',x:pick(scatterHigh,0),y:pick(scatterHigh,1),marker:{color:'#f7932f',size:6.5},xaxis:'x10',yaxis:'y10'});
traces.push({type:'scatter',mode:'lines',x:bandX.concat(bandX.slice().reverse()),y:bandHi.concat(bandLo.slice().reverse()),fill:'toself',fillcolor:'rgba(130,130,130,.42)',line:{width:0},xaxis:'x10',yaxis:'y10',hoverinfo:'skip'});
traces.push({type:'scatter',mode:'lines',x:fitX,y:fitY,line:{color:'#3d67b1',width:4},xaxis:'x10',yaxis:'y10'});
const dGrid={showgrid:true,gridcolor:'#e6e6e6',gridwidth:1.8,zeroline:false,showline:true,mirror:true,linecolor:'#4d4d4d',linewidth:1.2,ticks:'outside',ticklen:2,tickcolor:'#333',tickfont:{size:10.5,family:SERIF,color:'#4d4d4d'},fixedrange:true};
layout.xaxis10=Object.assign({},dGrid,{domain:dom(619,935.7),range:[3.028,7.967],anchor:'y10',tickmode:'array',tickvals:[4,5,6,7],minor:{tickvals:[3.5,4.5,5.5,6.5,7.5],showgrid:true,gridcolor:'#e6e6e6',gridwidth:1.8,ticks:''},title:{text:'Risk score',font:{size:12.5,family:SERIF,color:'#111'},standoff:0}});
layout.yaxis10=Object.assign({},dGrid,{domain:domY(509.3,817),range:[-1.32,29.2],anchor:'x10',tickmode:'array',tickvals:[0,10,20],minor:{tickvals:[5,15,25],showgrid:true,gridcolor:'#e6e6e6',gridwidth:1.8,ticks:''},title:{text:'Tumor Burden Mutation',font:{size:12,family:SERIF,color:'#111'},standoff:0}});
text('R = 0.2 , p = 5.9e−06',633,532,11.5);
text('Risk',954,642,12);
shapes.push({type:'circle',xref:'paper',yref:'paper',x0:px(960),x1:px(966),y0:py(665),y1:py(659),fillcolor:'#3a6bb5',line:{width:0}});
shapes.push({type:'circle',xref:'paper',yref:'paper',x0:px(960),x1:px(966),y0:py(684),y1:py(678),fillcolor:'#f7932f',line:{width:0}});
text('low',978,662,10);text('high',978,681,10);

function stepAt(t,time,surv){let s=surv[0];for(let i=0;i<time.length;i++){if(time[i]<=t)s=surv[i];}return s;}
function km(time,surv,cens,col,xa,ya){
 traces.push({type:'scatter',mode:'lines',x:time,y:surv,line:{color:col,width:2,shape:'hv'},xaxis:xa,yaxis:ya});
 traces.push({type:'scatter',mode:'markers',x:cens,y:cens.map(t=>stepAt(t,time,surv)),marker:{symbol:'cross-thin',size:7,color:col,line:{color:col,width:.8}},opacity:.85,xaxis:xa,yaxis:ya});
}
const RED='#ee2a2a',BLU='#2f6db5',PUR='#6a5296',GRN='#6cc06a';
km(hTime,hSurv,hCens,RED,'x11','y11');km(lTime,lSurv,lCens,BLU,'x11','y11');
km(f1Time,f1Surv,f1Cens,RED,'x12','y12');km(f2Time,f2Surv,f2Cens,BLU,'x12','y12');km(f3Time,f3Surv,f3Cens,PUR,'x12','y12');km(f4Time,f4Surv,f4Cens,GRN,'x12','y12');
const tick20=idx(21);
function kmAxes(n,x0,x1,top,bot,yr){
 const common={ticks:'outside',ticklen:3,tickcolor:'#000',tickwidth:1.2,showline:true,linecolor:'#000',linewidth:2,showgrid:false,zeroline:false,fixedrange:true};
 layout['xaxis'+n]=Object.assign({},common,{domain:dom(x0,x1),range:[-.985,20.98],anchor:'y'+n,tickmode:'array',tickvals:tick20,tickfont:{size:12,family:SERIF,color:'#111'},ticklabelstandoff:-4,title:{text:'Time(years)',font:{size:14,family:SERIF,color:'#111'},standoff:0}});
 layout['yaxis'+n]=Object.assign({},common,{domain:domY(top,bot),range:yr,anchor:'x'+n,tickmode:'array',tickvals:[0,.25,.5,.75,1],ticktext:['0.00','0.25','0.50','0.75','1.00'],tickfont:{size:12,family:SERIF,color:'#111'},title:{text:'Survival probability',font:{size:14,family:SERIF,color:'#111'},standoff:2}});
}
kmAxes(11,51.7,393,910,1213,[-.048,1.05]);
kmAxes(12,626.3,968.3,916.7,1219.3,[-.049,1.047]);
keyLine(299,313,969,RED);text('H−TMB',320,969,10);
keyLine(299,313,986.7,BLU);text('L−TMB',320,986.7,10);
text('p=0.024',73,1146,17);
[['H−TMB+high risk',RED,958],['H−TMB+low risk',BLU,975.7],['L−TMB+high risk',PUR,993.3],['L−TMB+low risk',GRN,1010.7]].forEach(([t,c,y])=>{keyLine(851.7,865.7,y,c);text(t,872,y,10);});
text('p<0.001',648,1152,17);

Plotly.newPlot('chart',traces,layout,{staticPlot:true,displayModeBar:false});
</script></body></html>
